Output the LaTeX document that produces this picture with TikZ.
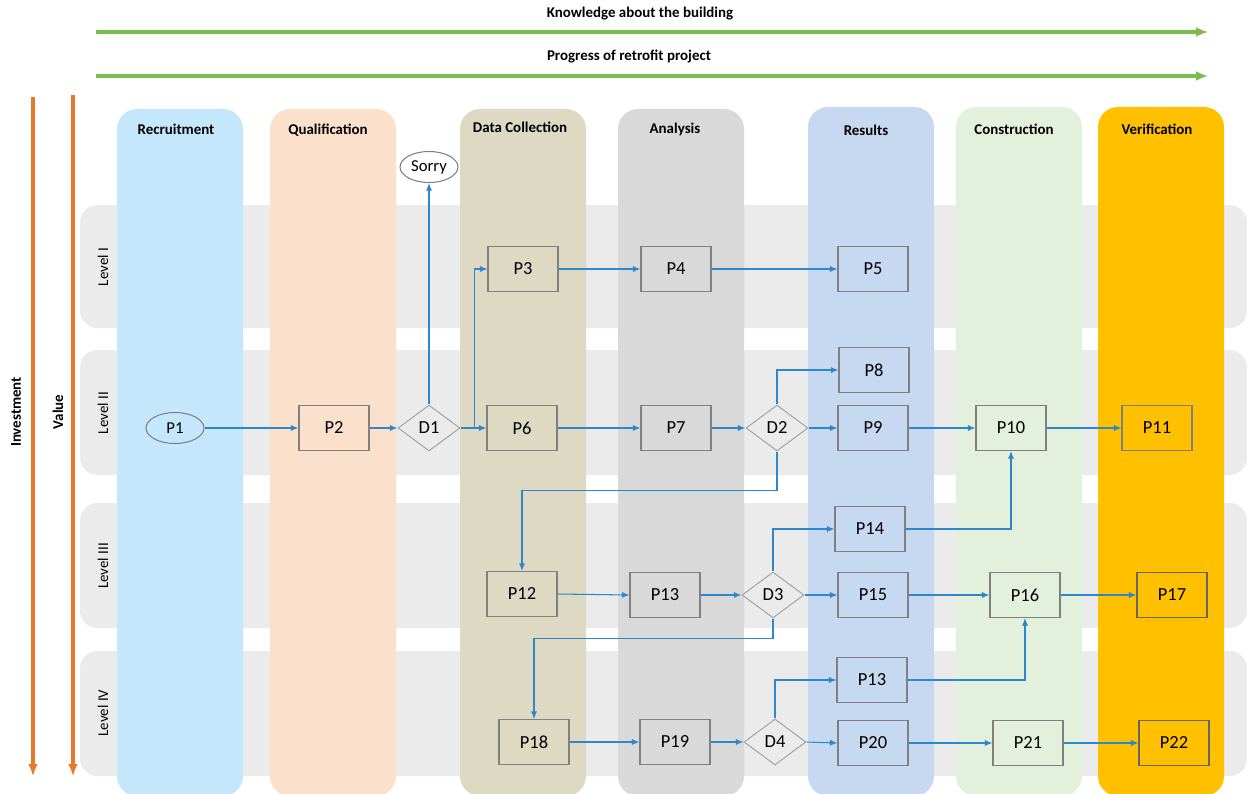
\documentclass[tikz,border=0pt]{standalone}
\usepackage{fontspec}
\setmainfont{Carlito}
\usetikzlibrary{arrows.meta, positioning, shapes.geometric}
\definecolor{flowblue}{HTML}{2B88CF}
\definecolor{axisgreen}{HTML}{78BE4F}
\definecolor{axisorange}{HTML}{E8782A}
\definecolor{bandgray}{HTML}{EBEBEB}
\definecolor{boxgray}{HTML}{808080}
\definecolor{diagray}{HTML}{A6A6A6}
\definecolor{recruitcol}{HTML}{C4E7FB}
\definecolor{qualicol}{HTML}{FBE0CB}
\definecolor{datacol}{HTML}{DDD9C3}
\definecolor{analysiscol}{HTML}{D9D9D9}
\definecolor{resultcol}{HTML}{C6D9F1}
\definecolor{constrcol}{HTML}{E3F1DC}
\definecolor{verifcol}{HTML}{FFC000}

\begin{document}
\begin{tikzpicture}[
  x=0.02cm, y=-0.02cm,
  lane/.style={rounded corners=0.4cm},
  band/.style={fill=bandgray, rounded corners=0.35cm},
  lanetitle/.style={font=\fontsize{8.5}{10}\selectfont\bfseries},
  levellbl/.style={rotate=90, font=\fontsize{8.5}{10}\selectfont},
  proc/.style={rectangle, draw=boxgray, line width=0.6pt, minimum width=1.4cm,
               minimum height=0.9cm, inner sep=0pt, font=\fontsize{10.5}{12}\selectfont},
  dec/.style={diamond, draw=diagray, line width=0.6pt, minimum width=1.24cm,
              minimum height=0.92cm, inner sep=0pt, font=\fontsize{10.5}{12}\selectfont},
  term/.style={ellipse, draw=boxgray, line width=0.6pt, minimum width=1.16cm,
               minimum height=0.62cm, inner sep=0pt, font=\fontsize{9.5}{11}\selectfont},
  flow/.style={-{Latex[length=1.5mm, width=1.2mm]}, draw=flowblue, line width=0.6pt},
  axis/.style={-{Latex[length=2.4mm, width=2mm]}, line width=1.8pt, #1}
]
\useasboundingbox (0,0) rectangle (1247,794);

% === Top axes ===
\coordinate (know0) at (96,32);
\coordinate (know1) at (1208,32);
\coordinate (prog0) at (96,76);
\coordinate (prog1) at (1208,76);
\draw[axis=axisgreen] (know0) -- (know1);
\draw[axis=axisgreen] (prog0) -- (prog1);
\node[lanetitle] (knowlbl) at (640,14) {Knowledge about the building};
\node[lanetitle] (proglbl) at (629,57) {Progress of retrofit project};

% === Side axes ===
\coordinate (inv0) at (33,97);
\coordinate (inv1) at (33,776);
\coordinate (val0) at (73,95);
\coordinate (val1) at (73,776);
\draw[axis=axisorange] (inv0) -- (inv1);
\draw[axis=axisorange] (val0) -- (val1);
\node[lanetitle, rotate=90] (invlbl) at (16,412) {Investment};
\node[lanetitle, rotate=90] (vallbl) at (58,412) {Value};

% === Level bands ===
\fill[band] (80,205) rectangle (1247,328);
\fill[band] (80,350) rectangle (1247,475);
\fill[band] (80,503) rectangle (1247,628);
\fill[band] (80,651) rectangle (1247,776);
\node[levellbl] (lvl1) at (103,267) {Level I};
\node[levellbl] (lvl2) at (103,413) {Level II};
\node[levellbl] (lvl3) at (103,566) {Level III};
\node[levellbl] (lvl4) at (103,713) {Level IV};

% === Lanes ===
\fill[lane, recruitcol]  (117,109) rectangle (243,796);
\fill[lane, qualicol]    (270,109) rectangle (396,796);
\fill[lane, datacol]     (460,109) rectangle (586,796);
\fill[lane, analysiscol] (618,109) rectangle (744,796);
\fill[lane, resultcol]   (808,107) rectangle (934,796);
\fill[lane, constrcol]   (956,107) rectangle (1082,796);
\fill[lane, verifcol]    (1098,107) rectangle (1224,796);
\node[lanetitle] (trecruit) at (176,129) {Recruitment};
\node[lanetitle] (tquali)   at (328,130) {Qualification};
\node[lanetitle] (tdata)    at (520,127) {Data Collection};
\node[lanetitle] (tanal)    at (675,129) {Analysis};
\node[lanetitle] (tresult)  at (866,130) {Results};
\node[lanetitle] (tconstr)  at (1014,129) {Construction};
\node[lanetitle] (tverif)   at (1157,129) {Verification};

% === Level I / II ===
\node[term] (p1) at (175,428) {P1};
\node[proc] (p2) at (334,428) {P2};
\node[dec]  (d1) at (429,428) {D1};
\node[term] (sorry) at (429,167) {Sorry};
\node[proc] (p3) at (523,269) {P3};
\node[proc] (p4) at (676,269) {P4};
\node[proc] (p5) at (873,269) {P5};
\node[proc] (p6) at (522,428) {P6};
\node[proc] (p7) at (676,428) {P7};
\node[dec]  (d2) at (777,428) {D2};
\node[proc] (p8) at (874,370) {P8};
\node[proc] (p9) at (873,428) {P9};
\node[proc] (p10) at (1011,428) {P10};
\node[proc] (p11) at (1157,428) {P11};

% === Level III ===
\node[proc] (p14) at (870,529) {P14};
\node[proc] (p12) at (522,594) {P12};
\node[proc] (p13) at (665,595) {P13};
\node[dec]  (d3) at (773,595) {D3};
\node[proc] (p15) at (873,595) {P15};
\node[proc] (p16) at (1025,595) {P16};
\node[proc, draw=boxgray!80!black] (p17) at (1172,595) {P17};

% === Level IV ===
\node[proc] (p13b) at (872,680) {P13};
\node[proc] (p18) at (534,742) {P18};
\node[proc] (p19) at (675,742) {P19};
\node[dec]  (d4) at (775,742) {D4};
\node[proc] (p20) at (873,743) {P20};
\node[proc] (p21) at (1028,743) {P21};
\node[proc, draw=boxgray!80!black] (p22) at (1174,743) {P22};

% === Connectors ===
\draw[flow] (p1) -- (p2);
\draw[flow] (p2) -- (d1);
\draw[flow] (d1.north) -- (sorry.south);
\draw[flow] (d1) -- (p6);
\draw[flow] (d1.east) -- ++(14,0) |- (p3.west);
\draw[flow] (p3) -- (p4);
\draw[flow] (p4) -- (p5);
\draw[flow] (p6) -- (p7);
\draw[flow] (p7) -- (d2);
\draw[flow] (d2) -- (p9);
\draw[flow] (d2.north) |- (p8.west);
\draw[flow] (d2.south) -- ++(0,39) -| (p12.north);
\draw[flow] (p9) -- (p10);
\draw[flow] (p10) -- (p11);
\draw[flow] (p12.east) -- (p13.west);
\draw[flow] (p13) -- (d3);
\draw[flow] (d3) -- (p15);
\draw[flow] (d3.north) |- (p14.west);
\draw[flow] (p14.east) -| (p10.south);
\draw[flow] (d3.south) -- ++(0,20) -| (p18.north);
\draw[flow] (p15) -- (p16);
\draw[flow] (p16) -- (p17);
\draw[flow] (p18) -- (p19);
\draw[flow] (p19) -- (d4);
\draw[flow] (d4.east) -- (p20.west);
\draw[flow] (d4.north) |- (p13b.west);
\draw[flow] (p13b.east) -| (p16.south);
\draw[flow] (p20) -- (p21);
\draw[flow] (p21) -- (p22);

\end{tikzpicture}
\end{document}
